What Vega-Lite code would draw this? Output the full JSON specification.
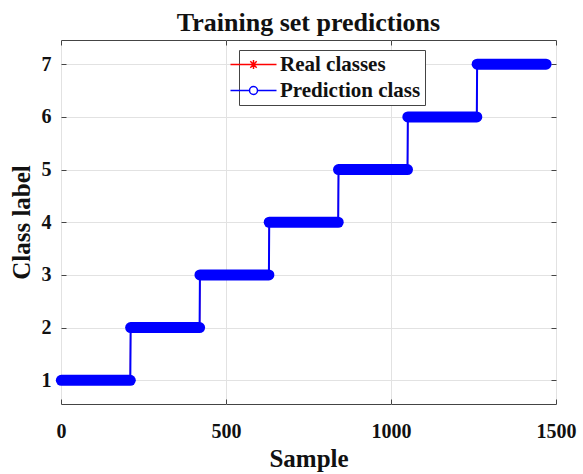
{
  "$schema": "https://vega.github.io/schema/vega-lite/v6.json",
  "autosize": {"type": "none"},
  "padding": {"left": 61, "top": 40, "right": 27, "bottom": 70},
  "width": 495,
  "height": 364,
  "background": "white",
  "title": {
    "text": "Training set predictions",
    "font": "Liberation Serif",
    "fontSize": 26,
    "fontWeight": "bold",
    "color": "#111111",
    "anchor": "middle",
    "baseline": "alphabetic",
    "offset": -17
  },
  "datasets": {
    "steps": [
      {"series": "Real classes", "cls": 1, "first": 1, "last": 210},
      {"series": "Real classes", "cls": 2, "first": 211, "last": 420},
      {"series": "Real classes", "cls": 3, "first": 421, "last": 630},
      {"series": "Real classes", "cls": 4, "first": 631, "last": 840},
      {"series": "Real classes", "cls": 5, "first": 841, "last": 1050},
      {"series": "Real classes", "cls": 6, "first": 1051, "last": 1260},
      {"series": "Real classes", "cls": 7, "first": 1261, "last": 1470},
      {"series": "Prediction class", "cls": 1, "first": 1, "last": 210},
      {"series": "Prediction class", "cls": 2, "first": 211, "last": 420},
      {"series": "Prediction class", "cls": 3, "first": 421, "last": 630},
      {"series": "Prediction class", "cls": 4, "first": 631, "last": 840},
      {"series": "Prediction class", "cls": 5, "first": 841, "last": 1050},
      {"series": "Prediction class", "cls": 6, "first": 1051, "last": 1260},
      {"series": "Prediction class", "cls": 7, "first": 1261, "last": 1470}
    ]
  },
  "data": {"name": "steps"},
  "resolve": {"axis": {"x": "independent", "y": "independent"}},
  "layer": [
    {
      "mark": {"type": "point", "filled": false, "size": 1, "strokeWidth": 1.5, "opacity": 1},
      "encoding": {
        "x": {
          "field": "first", "type": "quantitative",
          "scale": {"domain": [0, 1500], "nice": false, "zero": false},
          "axis": {
            "orient": "bottom", "title": "Sample", "values": [0, 500, 1000, 1500], "format": "d",
            "labelFlush": false, "grid": true, "labelPadding": 22, "titleY": 62, "titleBaseline": "alphabetic"
          }
        },
        "y": {
          "field": "cls", "type": "quantitative",
          "scale": {"domain": [0.55, 7.46], "nice": false, "zero": false},
          "axis": {
            "orient": "left", "title": "Class label", "values": [1, 2, 3, 4, 5, 6, 7], "format": "d",
            "labelFlush": false, "grid": true, "labelPadding": 15, "titleX": -32, "titleBaseline": "alphabetic"
          }
        },
        "color": {
          "field": "series", "type": "nominal",
          "scale": {"domain": ["Real classes", "Prediction class"], "range": ["#ff0000", "#0000ff"]},
          "legend": {
            "orient": "none", "legendX": 178, "legendY": 10, "title": null
          }
        },
        "shape": {
          "field": "series", "type": "nominal",
          "scale": {
            "domain": ["Real classes", "Prediction class"],
            "range": [
              "M-5.75,0H5.75M0,-1.1V1.1M-0.8,-0.8L0.8,0.8M-0.8,0.8L0.8,-0.8",
              "M-5.75,0H-1M1,0H5.75M1,0A1,1,0,1,1,-1,0A1,1,0,1,1,1,0"
            ]
          },
          "legend": {
            "orient": "none", "legendX": 178, "legendY": 10, "title": null
          }
        }
      }
    },
    {
      "transform": [
        {"filter": "datum.series === 'Real classes'"},
        {"fold": ["first", "last"], "as": ["end", "sample"]}
      ],
      "mark": {"type": "line", "strokeWidth": 1.2, "color": "#ff0000"},
      "encoding": {
        "x": {
          "field": "sample", "type": "quantitative",
          "axis": {"orient": "top", "title": null, "labels": false, "grid": false, "values": [0, 500, 1000, 1500]}
        },
        "y": {
          "field": "cls", "type": "quantitative",
          "axis": {"orient": "right", "title": null, "labels": false, "grid": false, "values": [1, 2, 3, 4, 5, 6, 7]}
        },
        "order": {"field": "sample", "type": "quantitative"}
      }
    },
    {
      "transform": [
        {"filter": "datum.series === 'Prediction class'"},
        {"fold": ["first", "last"], "as": ["end", "sample"]}
      ],
      "mark": {"type": "line", "strokeWidth": 2, "color": "#0000ff"},
      "encoding": {
        "x": {"field": "sample", "type": "quantitative", "axis": null},
        "y": {"field": "cls", "type": "quantitative", "axis": null},
        "order": {"field": "sample", "type": "quantitative"}
      }
    },
    {
      "mark": {"type": "rule", "strokeCap": "round", "opacity": 1},
      "encoding": {
        "x": {"field": "first", "type": "quantitative", "axis": null},
        "x2": {"field": "last"},
        "y": {"field": "cls", "type": "quantitative", "axis": null},
        "color": {"field": "series", "type": "nominal", "legend": null},
        "strokeWidth": {
          "condition": {"test": "datum.series === 'Real classes'", "value": 7},
          "value": 11
        }
      }
    }
  ],
  "config": {
    "font": "Liberation Serif",
    "view": {"stroke": "#444444", "strokeWidth": 1},
    "axis": {
      "domain": false,
      "labelFont": "Liberation Serif",
      "labelFontSize": 20,
      "labelFontWeight": "bold",
      "labelColor": "#111111",
      "titleFont": "Liberation Serif",
      "titleFontSize": 25,
      "titleFontWeight": "bold",
      "titleColor": "#111111",
      "tickColor": "#444444",
      "tickSize": -5,
      "tickWidth": 1,
      "gridColor": "#e2e2e2",
      "gridWidth": 1
    },
    "legend": {
      "labelFont": "Liberation Serif",
      "labelFontSize": 21,
      "labelFontWeight": "bold",
      "labelColor": "#111111",
      "strokeColor": "#444444",
      "fillColor": "#ffffff",
      "padding": 4,
      "rowPadding": 4,
      "symbolSize": 64,
      "symbolStrokeWidth": 1.5,
      "symbolOpacity": 1,
      "labelOffset": 16,
      "cornerRadius": 0
    }
  }
}
